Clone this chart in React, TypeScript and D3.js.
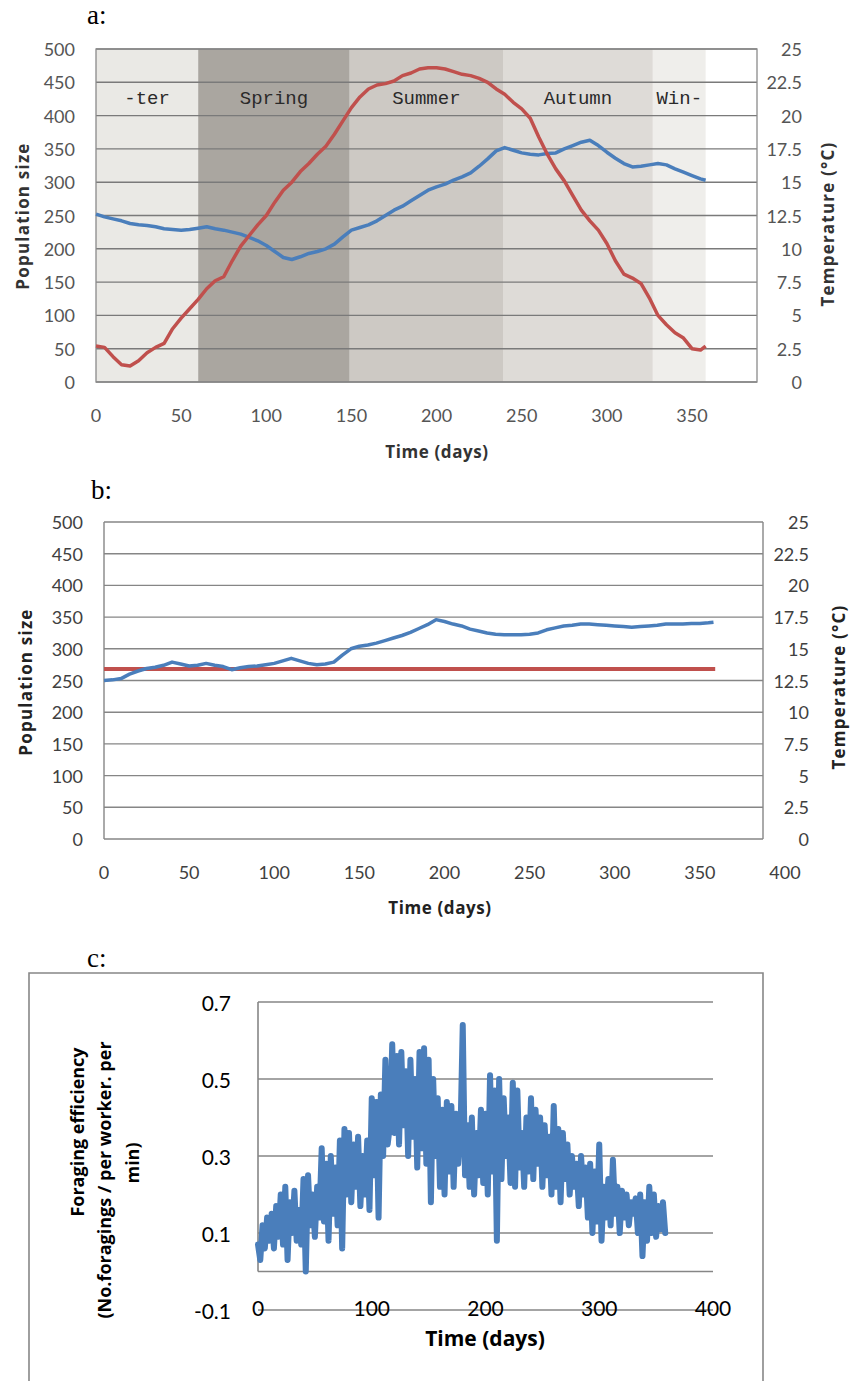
import React from "react";
import * as d3 from "d3";

// ---------- Panel a data ----------
const seasonNames = ["-ter", "Spring", "Summer", "Autumn", "Win-"];
const seasonStart = [0, 60, 149, 239, 327];
const seasonEnd = [60, 149, 239, 327, 358];
const seasonColors = ["#eae9e5", "#aaa6a0", "#cdc9c4", "#dedbd7", "#efeeeb"];

const daysA = [0,5,10,15,20,25,30,35,40,45,50,55,60,65,70,75,80,85,90,95,100,105,110,115,120,125,130,135,140,145,150,155,160,165,170,175,180,185,190,195,200,205,210,215,220,225,230,235,240,245,250,255,260,265,270,275,280,285,290,295,300,305,310,315,320,325,330,335,340,345,350,355,358];
const popA = [252,248,245,242,238,236,235,233,230,229,228,229,231,233,230,228,225,222,217,212,205,196,187,184,188,193,196,200,207,218,228,232,236,242,250,258,264,272,280,288,293,297,303,308,314,324,335,347,352,348,344,342,341,343,344,350,355,360,363,355,345,336,328,323,324,326,328,326,320,315,310,305,303];
const tempA = [2.7,2.6,1.9,1.3,1.2,1.6,2.2,2.6,2.9,4.0,4.8,5.5,6.2,7.0,7.6,7.9,9.1,10.2,11.0,11.8,12.5,13.5,14.4,15.0,15.8,16.4,17.1,17.7,18.6,19.6,20.6,21.4,22.0,22.3,22.4,22.6,23.0,23.2,23.5,23.6,23.6,23.5,23.3,23.1,23.0,22.8,22.5,22.0,21.6,21.0,20.5,19.8,18.4,17.1,16.0,15.1,14.0,12.9,12.1,11.4,10.4,9.1,8.1,7.8,7.4,6.3,5.0,4.3,3.7,3.3,2.5,2.4,2.7];

// ---------- Panel b data ----------
const daysB = daysA;
const popB = [250,251,253,260,265,269,271,274,279,276,273,274,277,274,272,267,270,272,273,275,277,281,285,281,277,275,276,279,290,300,304,306,309,313,317,321,326,332,338,346,343,339,336,331,328,325,323,322,322,322,323,325,330,333,336,337,339,339,338,337,336,335,334,335,336,337,339,339,339,340,340,341,342];
const tempBDays = [0, 359];
const tempB = [13.4, 13.4];

// ---------- Panel c data (every 2 days, day 0..358) ----------
const effC = [
  0.07,0.03,0.12,0.06,0.14,0.08,0.15,0.06,0.17,0.09,
  0.20,0.07,0.22,0.03,0.18,0.10,0.21,0.08,0.16,0.07,
  0.24,0.00,0.25,0.12,0.20,0.09,0.22,0.14,0.32,0.13,
  0.28,0.08,0.30,0.15,0.27,0.12,0.34,0.06,0.37,0.20,
  0.36,0.18,0.33,0.22,0.35,0.17,0.30,0.20,0.34,0.16,
  0.45,0.25,0.44,0.14,0.46,0.30,0.55,0.33,0.38,0.59,
  0.36,0.56,0.33,0.57,0.38,0.52,0.30,0.55,0.35,0.50,
  0.27,0.57,0.32,0.58,0.28,0.55,0.18,0.50,0.30,0.45,
  0.22,0.42,0.20,0.44,0.26,0.43,0.22,0.41,0.28,0.36,
  0.64,0.25,0.38,0.22,0.40,0.20,0.36,0.25,0.42,0.23,
  0.41,0.20,0.51,0.26,0.47,0.08,0.50,0.24,0.45,0.30,
  0.40,0.23,0.49,0.22,0.47,0.27,0.36,0.22,0.40,0.26,
  0.45,0.24,0.42,0.28,0.40,0.22,0.38,0.25,0.35,0.20,
  0.43,0.22,0.37,0.18,0.36,0.24,0.33,0.20,0.30,0.22,
  0.28,0.17,0.30,0.20,0.27,0.14,0.28,0.10,0.26,0.13,
  0.33,0.08,0.22,0.14,0.24,0.12,0.29,0.15,0.22,0.10,
  0.21,0.14,0.20,0.12,0.18,0.15,0.19,0.10,0.20,0.04,
  0.18,0.08,0.22,0.10,0.20,0.09,0.17,0.11,0.18,0.10,
];
const daysC = effC.map((_, i) => i * 2);

// ---------- Ticks ----------
const popTicks = [0, 50, 100, 150, 200, 250, 300, 350, 400, 450, 500];
const tempTicks = [0, 2.5, 5, 7.5, 10, 12.5, 15, 17.5, 20, 22.5, 25];
const dayTicksA = [0, 50, 100, 150, 200, 250, 300, 350];
const dayTicksB = [0, 50, 100, 150, 200, 250, 300, 350, 400];
const effTicks = [-0.1, 0.1, 0.3, 0.5, 0.7];
const dayTicksC = [0, 100, 200, 300, 400];

const SANS = "Lato, 'Open Sans', sans-serif";
const TITLE = "'Open Sans', Lato, sans-serif";
const BLUE = "#4a7ebb";
const RED = "#c0504d";
const GRID = "#868686";

export default function App() {
  // Panel a scales
  const xA = d3.scaleLinear().domain([0, 350]).range([96, 692]);
  const yA = d3.scaleLinear().domain([0, 500]).range([382, 49]);
  const tA = d3.scaleLinear().domain([0, 25]).range([382, 49]);
  const aL = 96, aR = 757, aT = 49, aB = 382;

  const popLineA = d3.line<number>().x((_, i) => xA(daysA[i])).y((d) => yA(d));
  const tempLineA = d3.line<number>().x((_, i) => xA(daysA[i])).y((d) => tA(d));

  // Panel b scales
  const xB = d3.scaleLinear().domain([0, 400]).range([104, 785]);
  const yB = d3.scaleLinear().domain([0, 500]).range([839, 522]);
  const tB = d3.scaleLinear().domain([0, 25]).range([839, 522]);
  const bL = 104, bR = 763, bT = 522, bB = 839;
  const popLineB = d3.line<number>().x((_, i) => xB(daysB[i])).y((d) => yB(d));
  const tempLineB = d3.line<number>().x((_, i) => xB(tempBDays[i])).y((d) => tB(d));

  // Panel c scales
  const xC = d3.scaleLinear().domain([0, 400]).range([258, 713]);
  const yC = d3.scaleLinear().domain([-0.1, 0.7]).range([1310, 1002]);
  const effLine = d3.line<number>().x((_, i) => xC(daysC[i])).y((d) => yC(d));

  const titleProps = { fontFamily: TITLE, fontWeight: "bold", fontSize: 17, letterSpacing: 1.2, textAnchor: "middle" as const, dominantBaseline: "central" as const };

  return (
    <svg width={851} height={1381} style={{ position: "absolute", left: 0, top: 0, background: "#fff" }}>
      {/* ================= Panel a ================= */}
      <text x={87} y={24} fontFamily="'Liberation Serif', serif" fontSize={27} fill="#000">a:</text>
      {seasonNames.map((s, i) => (
        <rect key={"band" + i} x={xA(seasonStart[i])} y={aT} width={xA(seasonEnd[i]) - xA(seasonStart[i])} height={aB - aT} fill={seasonColors[i]} />
      ))}
      {popTicks.map((v) => (
        <line key={"ga" + v} x1={aL} x2={aR} y1={yA(v)} y2={yA(v)} stroke="#7a7a7a" strokeWidth={1.4} />
      ))}
      <rect x={aL} y={aT} width={aR - aL} height={aB - aT} fill="none" stroke="#8a8a8a" strokeWidth={1.3} />
      {seasonNames.map((s, i) => (
        <text key={"sn" + i} x={xA((seasonStart[i] + seasonEnd[i]) / 2)} y={99} textAnchor="middle" dominantBaseline="central"
          fontFamily="'Liberation Mono', monospace" fontSize={19} fill="#2a2a2a">{s}</text>
      ))}
      <path d={popLineA(popA) || ""} fill="none" stroke={BLUE} strokeWidth={3.5} strokeLinejoin="round" />
      <path d={tempLineA(tempA) || ""} fill="none" stroke={RED} strokeWidth={3.5} strokeLinejoin="round" />
      {popTicks.map((v) => (
        <text key={"la" + v} x={75} y={yA(v)} textAnchor="end" dominantBaseline="central" fontFamily={SANS} fontSize={18} fill="#555">{v}</text>
      ))}
      {tempTicks.map((v) => (
        <text key={"ra" + v} x={802} y={tA(v)} textAnchor="end" dominantBaseline="central" fontFamily={SANS} fontSize={18} fill="#555">{v}</text>
      ))}
      {dayTicksA.map((v) => (
        <text key={"xa" + v} x={xA(v)} y={415} textAnchor="middle" dominantBaseline="central" fontFamily={SANS} fontSize={18} fill="#555">{v}</text>
      ))}
      <text x={437} y={451} {...titleProps} letterSpacing={0.6} fill="#333">Time (days)</text>
      <text transform="translate(22,216) rotate(-90)" {...titleProps} fill="#333">Population size</text>
      <text transform="translate(827,224) rotate(-90)" {...titleProps} fill="#333">Temperature (°C)</text>

      {/* ================= Panel b ================= */}
      <text x={91} y={499} fontFamily="'Liberation Serif', serif" fontSize={27} fill="#000">b:</text>
      {popTicks.map((v) => (
        <line key={"gb" + v} x1={bL} x2={bR} y1={yB(v)} y2={yB(v)} stroke={GRID} strokeWidth={1.4} />
      ))}
      <line x1={bL} x2={bL} y1={bT} y2={bB} stroke={GRID} strokeWidth={1.4} />
      <line x1={bR} x2={bR} y1={bT} y2={bB} stroke={GRID} strokeWidth={1.4} />
      <path d={tempLineB(tempB) || ""} fill="none" stroke={RED} strokeWidth={4} />
      <path d={popLineB(popB) || ""} fill="none" stroke={BLUE} strokeWidth={3.5} strokeLinejoin="round" />
      {popTicks.map((v) => (
        <text key={"lb" + v} x={83} y={yB(v)} textAnchor="end" dominantBaseline="central" fontFamily={SANS} fontSize={18} fill="#404040">{v}</text>
      ))}
      {tempTicks.map((v) => (
        <text key={"rb" + v} x={809} y={tB(v)} textAnchor="end" dominantBaseline="central" fontFamily={SANS} fontSize={18} fill="#404040">{v}</text>
      ))}
      {dayTicksB.map((v) => (
        <text key={"xb" + v} x={xB(v)} y={872} textAnchor="middle" dominantBaseline="central" fontFamily={SANS} fontSize={18} fill="#404040">{v}</text>
      ))}
      <text x={440} y={907} {...titleProps} letterSpacing={0.6} fill="#222">Time (days)</text>
      <text transform="translate(25,682) rotate(-90)" {...titleProps} fill="#222">Population size</text>
      <text transform="translate(838,687) rotate(-90)" {...titleProps} fill="#222">Temperature (°C)</text>

      {/* ================= Panel c ================= */}
      <text x={87} y={967} fontFamily="'Liberation Serif', serif" fontSize={27} fill="#000">c:</text>
      <path d={`M29,1385 L29,973 L763,973 L763,1385`} fill="none" stroke="#878787" strokeWidth={1.6} />
      {effTicks.map((v) => (
        <line key={"gc" + v} x1={258} x2={713} y1={yC(v)} y2={yC(v)} stroke={GRID} strokeWidth={1.6} />
      ))}
      <line x1={258} x2={713} y1={yC(0)} y2={yC(0)} stroke={GRID} strokeWidth={1.6} />
      <line x1={258} x2={258} y1={yC(0.7)} y2={yC(0)} stroke={GRID} strokeWidth={1.6} />
      <path d={effLine(effC) || ""} fill="none" stroke={BLUE} strokeWidth={6} strokeLinejoin="round" strokeLinecap="round" />
      {effTicks.map((v) => (
        <text key={"lc" + v} x={231} y={yC(v)} textAnchor="end" dominantBaseline="central" fontFamily={SANS} fontSize={21} fill="#000">{v}</text>
      ))}
      {dayTicksC.map((v) => (
        <text key={"xc" + v} x={xC(v)} y={1307} textAnchor="middle" dominantBaseline="central" fontFamily={SANS} fontSize={21} fill="#000">{v}</text>
      ))}
      <text x={485} y={1338} textAnchor="middle" dominantBaseline="central" fontFamily={TITLE} fontWeight="bold" fontSize={21} fill="#000">Time (days)</text>
      <text transform="translate(77,1132) rotate(-90)" textAnchor="middle" dominantBaseline="central" fontFamily={TITLE} fontWeight="bold" fontSize={18} fill="#000">Foraging efficiency</text>
      <text transform="translate(104,1180) rotate(-90)" textAnchor="middle" dominantBaseline="central" fontFamily={TITLE} fontWeight="bold" fontSize={18} fill="#000">(No.foragings / per worker. per</text>
      <text transform="translate(132,1163) rotate(-90)" textAnchor="middle" dominantBaseline="central" fontFamily={TITLE} fontWeight="bold" fontSize={18} fill="#000">min)</text>
    </svg>
  );
}
